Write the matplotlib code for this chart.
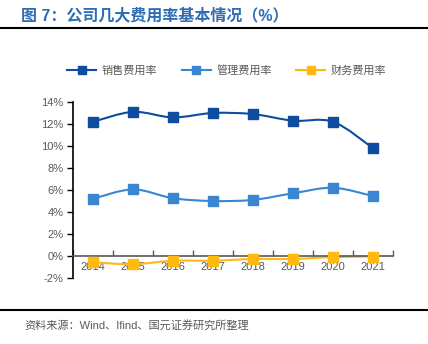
import numpy as np
import matplotlib.pyplot as plt
from matplotlib.path import Path
from matplotlib.patches import PathPatch
from matplotlib.lines import Line2D

plt.rcParams['font.family'] = ['Liberation Sans', 'Noto Sans CJK SC', 'DejaVu Sans']

years = ['2014', '2015', '2016', '2017', '2018', '2019', '2020', '2021']
sales_rate = [12.2, 13.1, 12.6, 13.0, 12.9, 12.3, 12.2, 9.8]
admin_rate = [5.2, 6.05, 5.25, 5.0, 5.1, 5.7, 6.2, 5.45]
finance_rate = [-0.57, -0.75, -0.43, -0.43, -0.27, -0.27, -0.1, -0.05]

series_names = ['销售费用率', '管理费用率', '财务费用率']
colors = ['#0D4C9E', '#3A86D1', '#FFB90F']


def smooth_path(xs, ys):
    # catmull-rom style cubic bezier through the points
    pts = np.column_stack([xs, ys]).astype(float)
    n = len(pts)
    verts = [pts[0]]
    codes = [Path.MOVETO]
    for i in range(n - 1):
        p0 = pts[i - 1] if i > 0 else pts[i]
        p1 = pts[i]
        p2 = pts[i + 1]
        p3 = pts[i + 2] if i + 2 < n else pts[i + 1]
        c1 = p1 + (p2 - p0) / 6
        c2 = p2 - (p3 - p1) / 6
        verts += [c1, c2, p2]
        codes += [Path.CURVE4] * 3
    return Path(verts, codes)


fig = plt.figure(figsize=(4.28, 3.44), dpi=100)
ax = fig.add_axes([0.1706, 0.1919, 0.7477, 0.5116])

x = np.arange(len(years))
for vals, name, c in zip([sales_rate, admin_rate, finance_rate], series_names, colors):
    ax.add_patch(PathPatch(smooth_path(x, vals), facecolor='none', edgecolor=c, lw=1.5, zorder=2))
    ax.plot(x, vals, linestyle='none', marker='s', ms=6.5, color=c, zorder=3)

ax.set_xlim(-0.5, len(years) - 0.5)
ax.set_ylim(-2, 14)
ax.set_yticks(np.arange(-2, 15, 2))
ax.set_yticklabels([f'{v}%' for v in range(-2, 15, 2)])
ax.set_xticks(x)
ax.set_xticklabels(years)
ax.set_xticks(np.arange(-0.5, len(years), 1), minor=True)

for s in ['top', 'right']:
    ax.spines[s].set_visible(False)
ax.spines['bottom'].set_position(('data', 0))
ax.spines['bottom'].set_color('#595959')
ax.spines['bottom'].set_linewidth(1.2)
ax.spines['left'].set_linewidth(1.2)

ax.tick_params(axis='y', labelsize=8, labelcolor='#595959', length=4, width=1, pad=3)
ax.tick_params(axis='x', which='major', length=0, labelsize=8, labelcolor='#595959', pad=4)
ax.tick_params(axis='x', which='minor', direction='in', length=4, width=1, color='#595959')

handles = [Line2D([0], [0], color=c, lw=1.5, marker='s', ms=6) for c in colors]
fig.legend(handles, series_names, loc='center', bbox_to_anchor=(0.53, 0.795), ncol=3,
           frameon=False, fontsize=8, labelcolor='#595959', handlelength=2.6,
           columnspacing=2.2, handletextpad=0.5)

fig.text(0.05, 0.955, '图 7：公司几大费用率基本情况（%）', fontsize=11.5, fontweight='bold',
         color='#2E6CB5', va='center')
fig.add_artist(Line2D([0, 1], [0.918, 0.918], color='black', lw=1.5))
fig.add_artist(Line2D([0, 1], [0.099, 0.099], color='black', lw=1.5))
fig.text(0.058, 0.055, '资料来源：Wind、Ifind、国元证券研究所整理', fontsize=8,
         color='#595959', va='center')

fig.savefig('out.png', dpi=100)
